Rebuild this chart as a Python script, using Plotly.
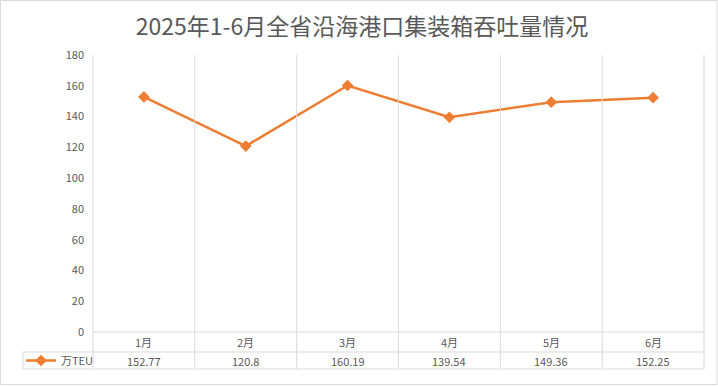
import plotly.graph_objects as go

categories = ["1月", "2月", "3月", "4月", "5月", "6月"]
values = [152.77, 120.8, 160.19, 139.54, 149.36, 152.25]
value_labels = ["152.77", "120.8", "160.19", "139.54", "149.36", "152.25"]
series_name = "万TEU"
title_text = "2025年1-6月全省沿海港口集装箱吞吐量情况"
y_ticks = [0, 20, 40, 60, 80, 100, 120, 140, 160, 180]

W, H = 718, 386
L, R, T, B = 93, 14, 55, 54
PW, PH = W - L - R, H - T - B

def px_x(p):
    return (p - L) / PW

def px_y(p):
    return (H - B - p) / PH

FONT = "Noto Sans CJK SC, Noto Sans, sans-serif"
TXT = "#595959"
GRID = "#d9d9d9"
ORANGE = "#ED7D31"

n = len(categories)
xs = [i + 0.5 for i in range(n)]

fig = go.Figure()
fig.add_trace(go.Scatter(
    x=xs, y=values, mode="lines+markers", name=series_name,
    line=dict(color=ORANGE, width=2.5),
    marker=dict(symbol="diamond", size=9, color=ORANGE),
    showlegend=True,
))

shapes = []
row1_bottom = px_y(352)
row2_bottom = px_y(369)
for i in range(n + 1):
    shapes.append(dict(type="line", xref="paper", yref="paper",
                       x0=i / n, x1=i / n, y0=row2_bottom, y1=1,
                       line=dict(color=GRID, width=1)))
shapes.append(dict(type="line", xref="paper", yref="paper", x0=0, x1=1, y0=0, y1=0,
                   line=dict(color=GRID, width=1)))
for yy in (row1_bottom, row2_bottom):
    shapes.append(dict(type="line", xref="paper", yref="paper", x0=px_x(23), x1=1,
                       y0=yy, y1=yy, line=dict(color=GRID, width=1)))
shapes.append(dict(type="line", xref="paper", yref="paper", x0=px_x(23), x1=px_x(23),
                   y0=row2_bottom, y1=row1_bottom, line=dict(color=GRID, width=1)))
shapes.append(dict(type="rect", xref="paper", yref="paper",
                   x0=px_x(0.5), x1=px_x(717), y0=px_y(384.5), y1=px_y(0.5),
                   line=dict(color=GRID, width=1), fillcolor="rgba(0,0,0,0)"))

annotations = []
for i, c in enumerate(categories):
    annotations.append(dict(x=xs[i], xref="x", y=px_y(342), yref="paper",
                            text=c, showarrow=False, yanchor="middle",
                            font=dict(family=FONT, size=11, color=TXT)))
    annotations.append(dict(x=xs[i], xref="x", y=px_y(360.5), yref="paper",
                            text=value_labels[i], showarrow=False, yanchor="middle",
                            font=dict(family=FONT, size=11, color=TXT)))

fig.update_layout(
    width=W, height=H,
    margin=dict(l=L, r=R, t=T, b=B, autoexpand=False),
    paper_bgcolor="white", plot_bgcolor="white",
    title=dict(text=title_text, x=362 / W, xanchor="center", xref="container",
               y=1 - 27 / H, yanchor="middle", yref="container",
               font=dict(family=FONT, size=23, color=TXT)),
    xaxis=dict(range=[0, n], showgrid=False, showticklabels=False, zeroline=False,
               showline=False, ticks="", fixedrange=True),
    yaxis=dict(range=[0, 180], tickvals=y_ticks, showgrid=False, zeroline=False,
               showline=False, ticks="", ticklabelstandoff=8,
               tickfont=dict(family=FONT, size=11, color=TXT)),
    legend=dict(x=px_x(21), xanchor="left", y=px_y(360.5), yanchor="middle",
                xref="paper", yref="paper", bgcolor="rgba(0,0,0,0)", borderwidth=0,
                itemwidth=30, font=dict(family=FONT, size=11, color=TXT)),
    shapes=shapes, annotations=annotations,
)

fig.write_html("out.html", config={"displayModeBar": False},
               post_script="document.body.style.margin='0';document.body.style.padding='0';")
